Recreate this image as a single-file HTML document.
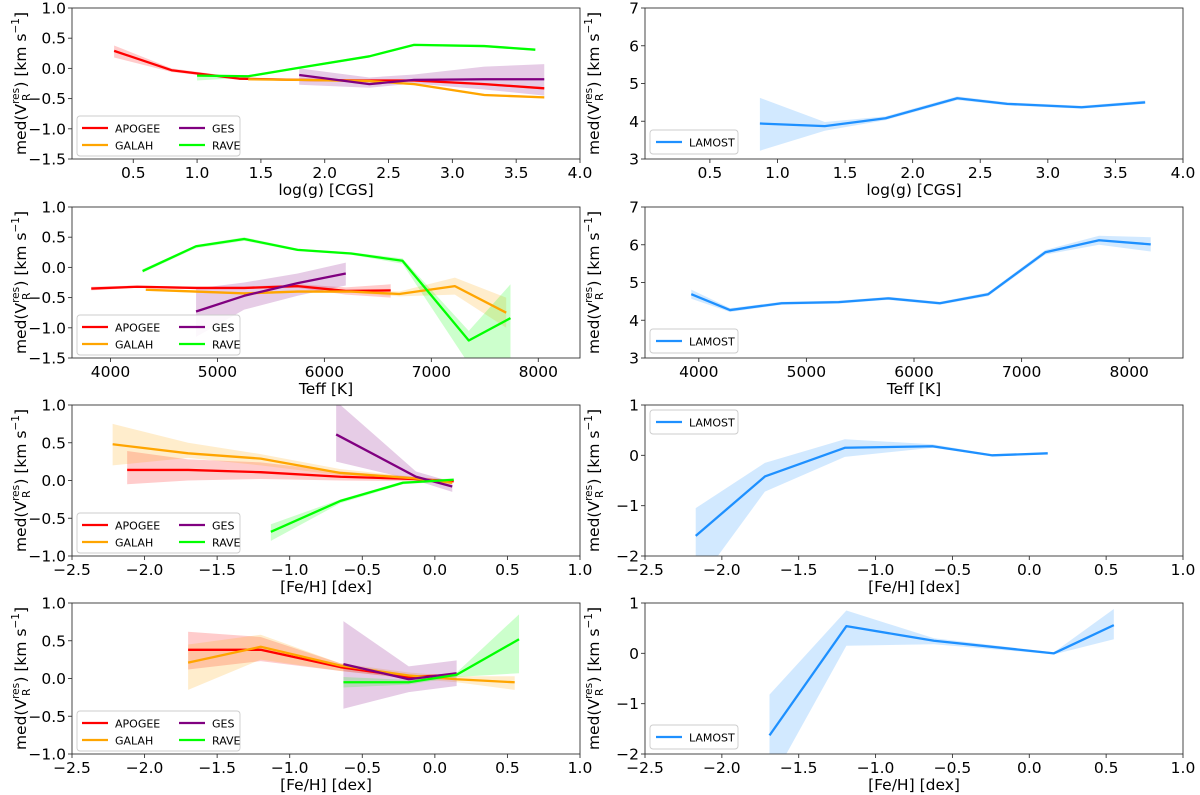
<!DOCTYPE html>
<html><head><meta charset="utf-8"><style>
html,body{margin:0;padding:0;background:#fff;}
svg{display:block;font-family:"DejaVu Sans","Liberation Sans",sans-serif;}
</style></head><body>
<svg id="fig" width="1200" height="795" viewBox="0 0 1200 795" xmlns="http://www.w3.org/2000/svg"></svg>
<script>
const C={APOGEE:'#ff0000',GALAH:'#ffa500',GES:'#800080',RAVE:'#00ff00',LAMOST:'#1e90ff'};
const p1_apogee_x=[0.35,0.8,1.33,1.8,2.3,2.7,3.25,3.72];
const p1_apogee_y=[0.29,-0.03,-0.17,-0.19,-0.2,-0.2,-0.26,-0.33];
const p1_apogee_lo=[0.18,-0.06,-0.19,-0.21,-0.22,-0.22,-0.28,-0.35];
const p1_apogee_hi=[0.38,0.0,-0.15,-0.17,-0.18,-0.18,-0.24,-0.31];
const p1_galah_x=[1.4,1.8,2.35,2.7,3.25,3.72];
const p1_galah_y=[-0.18,-0.19,-0.21,-0.26,-0.44,-0.48];
const p1_galah_lo=[-0.2,-0.21,-0.23,-0.28,-0.46,-0.5];
const p1_galah_hi=[-0.16,-0.17,-0.19,-0.24,-0.42,-0.46];
const p1_ges_x=[1.8,2.35,2.7,3.25,3.72];
const p1_ges_y=[-0.11,-0.26,-0.19,-0.18,-0.18];
const p1_ges_lo=[-0.27,-0.32,-0.25,-0.35,-0.45];
const p1_ges_hi=[0.0,-0.15,-0.1,0.03,0.07];
const p1_rave_x=[1.0,1.4,1.8,2.35,2.7,3.25,3.65];
const p1_rave_y=[-0.12,-0.13,0.01,0.2,0.39,0.37,0.31];
const p1_rave_lo=[-0.2,-0.15,-0.01,0.18,0.37,0.35,0.29];
const p1_rave_hi=[-0.1,-0.11,0.03,0.22,0.41,0.39,0.33];
const p2_x=[0.87,1.35,1.8,2.33,2.7,3.25,3.72];
const p2_y=[3.94,3.87,4.08,4.61,4.46,4.37,4.5];
const p2_lo=[3.22,3.75,4.03,4.56,4.42,4.33,4.46];
const p2_hi=[4.62,3.98,4.13,4.66,4.5,4.41,4.55];
const p3_apogee_x=[3820,4250,4800,5250,5750,6200,6620];
const p3_apogee_y=[-0.35,-0.32,-0.34,-0.34,-0.31,-0.39,-0.38];
const p3_apogee_lo=[-0.38,-0.34,-0.36,-0.36,-0.34,-0.45,-0.5];
const p3_apogee_hi=[-0.32,-0.3,-0.32,-0.32,-0.28,-0.33,-0.28];
const p3_galah_x=[4330,4800,5250,5750,6250,6700,7220,7700];
const p3_galah_y=[-0.37,-0.4,-0.43,-0.4,-0.4,-0.44,-0.31,-0.75];
const p3_galah_lo=[-0.39,-0.42,-0.45,-0.42,-0.42,-0.48,-0.45,-1.0];
const p3_galah_hi=[-0.35,-0.38,-0.41,-0.38,-0.38,-0.4,-0.17,-0.5];
const p3_ges_x=[4800,5250,5750,6200];
const p3_ges_y=[-0.73,-0.47,-0.26,-0.1];
const p3_ges_lo=[-1.15,-0.7,-0.47,-0.3];
const p3_ges_hi=[-0.35,-0.25,-0.1,0.08];
const p3_rave_x=[4300,4800,5250,5750,6250,6730,7350,7740];
const p3_rave_y=[-0.06,0.35,0.47,0.29,0.23,0.11,-1.21,-0.84];
const p3_rave_lo=[-0.09,0.32,0.44,0.27,0.21,0.06,-1.6,-1.6];
const p3_rave_hi=[-0.03,0.37,0.5,0.31,0.25,0.15,-1.05,-0.28];
const p4_x=[3930,4290,4770,5300,5760,6240,6690,7220,7720,8200];
const p4_y=[4.69,4.27,4.45,4.48,4.58,4.45,4.69,5.8,6.12,6.01];
const p4_lo=[4.57,4.22,4.41,4.44,4.54,4.41,4.64,5.74,6.0,5.82];
const p4_hi=[4.81,4.32,4.49,4.52,4.62,4.49,4.74,5.86,6.24,6.2];
const p5_apogee_x=[-2.12,-1.7,-1.2,-0.65,-0.15,0.13];
const p5_apogee_y=[0.14,0.14,0.11,0.05,0.02,-0.01];
const p5_apogee_lo=[-0.05,0.0,0.02,0.0,-0.01,-0.03];
const p5_apogee_hi=[0.39,0.28,0.24,0.12,0.05,0.01];
const p5_galah_x=[-2.22,-1.7,-1.2,-0.65,-0.15,0.12];
const p5_galah_y=[0.48,0.36,0.29,0.1,0.03,-0.03];
const p5_galah_lo=[0.2,0.3,0.2,0.07,0.01,-0.05];
const p5_galah_hi=[0.75,0.5,0.35,0.15,0.05,-0.01];
const p5_ges_x=[-0.68,-0.13,0.12];
const p5_ges_y=[0.61,0.05,-0.08];
const p5_ges_lo=[0.25,0.0,-0.15];
const p5_ges_hi=[1.05,0.12,-0.02];
const p5_rave_x=[-1.13,-0.65,-0.22,0.13];
const p5_rave_y=[-0.68,-0.27,-0.03,0.01];
const p5_rave_lo=[-0.8,-0.3,-0.05,-0.01];
const p5_rave_hi=[-0.58,-0.25,-0.01,0.03];
const p6_x=[-2.17,-1.72,-1.2,-0.63,-0.24,0.12];
const p6_y=[-1.6,-0.42,0.15,0.18,0.0,0.04];
const p6_lo=[-2.6,-0.72,-0.03,0.15,-0.02,0.02];
const p6_hi=[-1.05,-0.15,0.32,0.22,0.02,0.06];
const p7_apogee_x=[-1.7,-1.2,-0.65,-0.18,0.15];
const p7_apogee_y=[0.38,0.38,0.15,0.02,0.05];
const p7_apogee_lo=[0.12,0.23,0.1,0.0,0.03];
const p7_apogee_hi=[0.62,0.55,0.2,0.04,0.07];
const p7_galah_x=[-1.7,-1.2,-0.65,-0.18,0.15,0.55];
const p7_galah_y=[0.21,0.42,0.17,0.04,-0.01,-0.05];
const p7_galah_lo=[-0.15,0.25,0.1,0.0,-0.05,-0.15];
const p7_galah_hi=[0.45,0.58,0.2,0.08,0.03,0.03];
const p7_ges_x=[-0.63,-0.18,0.15];
const p7_ges_y=[0.19,-0.01,0.07];
const p7_ges_lo=[-0.4,-0.18,-0.1];
const p7_ges_hi=[0.76,0.16,0.24];
const p7_rave_x=[-0.63,-0.18,0.15,0.58];
const p7_rave_y=[-0.05,-0.05,0.05,0.52];
const p7_rave_lo=[-0.12,-0.08,0.02,0.07];
const p7_rave_hi=[0.02,-0.02,0.08,0.85];
const p8_x=[-1.69,-1.19,-0.62,0.16,0.55];
const p8_y=[-1.63,0.54,0.25,0.0,0.56];
const p8_lo=[-2.6,0.15,0.18,-0.02,0.28];
const p8_hi=[-0.82,0.85,0.3,0.02,0.88];

const leftTicksA=[-1.5,-1.0,-0.5,0.0,0.5,1.0];
const leftTicksB=[-1.0,-0.5,0.0,0.5,1.0];
const rightTicksA=[3,4,5,6,7];
const rightTicksB=[-2,-1,0,1];
const loggTicks=[0.5,1.0,1.5,2.0,2.5,3.0,3.5,4.0];
const teffTicks=[4000,5000,6000,7000,8000];
const fehTicks=[-2.5,-2.0,-1.5,-1.0,-0.5,0.0,0.5,1.0];

const NS='http://www.w3.org/2000/svg';
const svg=document.getElementById('fig');
function mk(tag,attrs,parent){const e=document.createElementNS(NS,tag);for(const k in attrs)e.setAttribute(k,attrs[k]);(parent||svg).appendChild(e);return e;}
function fmt(v,d){let s=v.toFixed(d);return s.replace('-','\u2212');}

const rowsTop=[8,207,405,603];const H=151;
const LX=[72,580],RX=[645,1183];
const FS=15.5;
let clipN=0;
function panel(name,px,top,xlim,ylim,xt,xd,yt,yd,xlabel,series,legend){
  const g=mk('g',{});
  
  
  const x0=px[0],x1=px[1],y0=top,y1=top+H;
  const sx=v=>x0+(v-xlim[0])/(xlim[1]-xlim[0])*(x1-x0);
  const sy=v=>y1-(v-ylim[0])/(ylim[1]-ylim[0])*(y1-y0);
  const cid='clip'+(clipN++);
  const cp=mk('clipPath',{id:cid},g);mk('rect',{x:x0,y:y0,width:x1-x0,height:y1-y0},cp);
  const plot=mk('g',{'clip-path':'url(#'+cid+')'},g);
  series.forEach(s=>{
    let d='M'+s.x.map((v,i)=>sx(v)+','+sy(s.hi[i])).join('L');
    for(let i=s.x.length-1;i>=0;i--)d+='L'+sx(s.x[i])+','+sy(s.lo[i]);
    const band=mk('path',{d:d+'Z',fill:C[s.n],'fill-opacity':0.2,stroke:'none'},plot);
    
    
  });
  series.forEach(s=>{
    const ln=mk('polyline',{points:s.x.map((v,i)=>sx(v)+','+sy(s.y[i])).join(' '),fill:'none',stroke:C[s.n],'stroke-width':2.3,'stroke-linejoin':'round'},plot);
    
    
  });
  const fr=mk('rect',{x:x0,y:y0,width:x1-x0,height:y1-y0,fill:'none',stroke:'#333','stroke-width':0.9},g);
  
  
  xt.forEach(v=>{const X=sx(v);if(X<x0-0.5||X>x1+0.5)return;
    mk('line',{x1:X,x2:X,y1:y1,y2:y1+4,stroke:'#333','stroke-width':0.9},g);
    const t=mk('text',{x:X,y:y1+19,'text-anchor':'middle','font-size':FS,fill:'#000'},g);t.textContent=fmt(v,xd);
    
    });
  yt.forEach(v=>{const Y=sy(v);
    mk('line',{x1:x0-4,x2:x0,y1:Y,y2:Y,stroke:'#333','stroke-width':0.9},g);
    const t=mk('text',{x:x0-6,y:Y+5.5,'text-anchor':'end','font-size':FS,fill:'#000'},g);t.textContent=fmt(v,yd);
    
    });
  const xl=mk('text',{x:(x0+x1)/2,y:y1+36,'text-anchor':'middle','font-size':FS,fill:'#000'},g);xl.textContent=xlabel;
  
  
  const yx=x0-46,yc=(y0+y1)/2;
  const yl=mk('text',{transform:'translate('+yx+','+yc+') rotate(-90)','text-anchor':'middle','font-size':FS,fill:'#000'},g);
  
  
  yl.innerHTML='med(V<tspan font-size="10.5" dy="-7">res</tspan><tspan font-size="10.5" dx="-13" dy="11">R</tspan><tspan dy="-4" dx="6">) [km s</tspan><tspan font-size="10.5" dy="-7">\u22121</tspan><tspan dy="7">]</tspan>';
  const lg=mk('g',{},g);
  
  
  mk('rect',{x:legend.x,y:legend.y,width:legend.w,height:legend.h,rx:3,fill:'#fff','fill-opacity':0.85,stroke:'#ccc','stroke-width':0.9},lg);
  legend.items.forEach(it=>{
    const e=mk('g',{},lg);
    
    
    mk('line',{x1:it.x,x2:it.x+26,y1:it.y,y2:it.y,stroke:C[it.n],'stroke-width':2.3},e);
    const t=mk('text',{x:it.x+33,y:it.y+4.5,'font-size':11,fill:'#000'},e);t.textContent=it.n;
  });
}
function S(n,x,y,lo,hi){return {n,x,y,lo,hi};}
function legend4(top){const lx=77,ly=top+H-43;return {x:lx,y:ly,w:163,h:40,items:[
  {n:'APOGEE',x:lx+5,y:ly+12},{n:'GES',x:lx+102,y:ly+12},{n:'GALAH',x:lx+5,y:ly+29},{n:'RAVE',x:lx+102,y:ly+29}]};}
function legend1(y){return {x:650,y:y,w:88,h:24,items:[{n:'LAMOST',x:656,y:y+12}]};}

panel('panel-logg-surveys',LX,rowsTop[0],[0.02,4.0],[-1.5,1.0],loggTicks,1,leftTicksA,1,'log(g) [CGS]',
 [S('APOGEE',p1_apogee_x,p1_apogee_y,p1_apogee_lo,p1_apogee_hi),S('GALAH',p1_galah_x,p1_galah_y,p1_galah_lo,p1_galah_hi),
  S('GES',p1_ges_x,p1_ges_y,p1_ges_lo,p1_ges_hi),S('RAVE',p1_rave_x,p1_rave_y,p1_rave_lo,p1_rave_hi)],legend4(rowsTop[0]));
panel('panel-logg-lamost',RX,rowsTop[0],[0.02,4.0],[3,7],loggTicks,1,rightTicksA,0,'log(g) [CGS]',
 [S('LAMOST',p2_x,p2_y,p2_lo,p2_hi)],legend1(rowsTop[0]+H-29));
panel('panel-teff-surveys',LX,rowsTop[1],[3640,8390],[-1.5,1.0],teffTicks,0,leftTicksA,1,'Teff [K]',
 [S('APOGEE',p3_apogee_x,p3_apogee_y,p3_apogee_lo,p3_apogee_hi),S('GALAH',p3_galah_x,p3_galah_y,p3_galah_lo,p3_galah_hi),
  S('GES',p3_ges_x,p3_ges_y,p3_ges_lo,p3_ges_hi),S('RAVE',p3_rave_x,p3_rave_y,p3_rave_lo,p3_rave_hi)],legend4(rowsTop[1]));
panel('panel-teff-lamost',RX,rowsTop[1],[3500,8500],[3,7],teffTicks,0,rightTicksA,0,'Teff [K]',
 [S('LAMOST',p4_x,p4_y,p4_lo,p4_hi)],legend1(rowsTop[1]+H-29));
panel('panel-feh-surveys-a',LX,rowsTop[2],[-2.5,1.0],[-1.0,1.0],fehTicks,1,leftTicksB,1,'[Fe/H] [dex]',
 [S('APOGEE',p5_apogee_x,p5_apogee_y,p5_apogee_lo,p5_apogee_hi),S('GALAH',p5_galah_x,p5_galah_y,p5_galah_lo,p5_galah_hi),
  S('GES',p5_ges_x,p5_ges_y,p5_ges_lo,p5_ges_hi),S('RAVE',p5_rave_x,p5_rave_y,p5_rave_lo,p5_rave_hi)],legend4(rowsTop[2]));
panel('panel-feh-lamost-a',RX,rowsTop[2],[-2.5,1.0],[-2,1],fehTicks,1,rightTicksB,0,'[Fe/H] [dex]',
 [S('LAMOST',p6_x,p6_y,p6_lo,p6_hi)],legend1(rowsTop[2]+5));
panel('panel-feh-surveys-b',LX,rowsTop[3],[-2.5,1.0],[-1.0,1.0],fehTicks,1,leftTicksB,1,'[Fe/H] [dex]',
 [S('APOGEE',p7_apogee_x,p7_apogee_y,p7_apogee_lo,p7_apogee_hi),S('GALAH',p7_galah_x,p7_galah_y,p7_galah_lo,p7_galah_hi),
  S('GES',p7_ges_x,p7_ges_y,p7_ges_lo,p7_ges_hi),S('RAVE',p7_rave_x,p7_rave_y,p7_rave_lo,p7_rave_hi)],legend4(rowsTop[3]));
panel('panel-feh-lamost-b',RX,rowsTop[3],[-2.5,1.0],[-2,1],fehTicks,1,rightTicksB,0,'[Fe/H] [dex]',
 [S('LAMOST',p8_x,p8_y,p8_lo,p8_hi)],legend1(rowsTop[3]+H-29));
</script>
</body></html>
